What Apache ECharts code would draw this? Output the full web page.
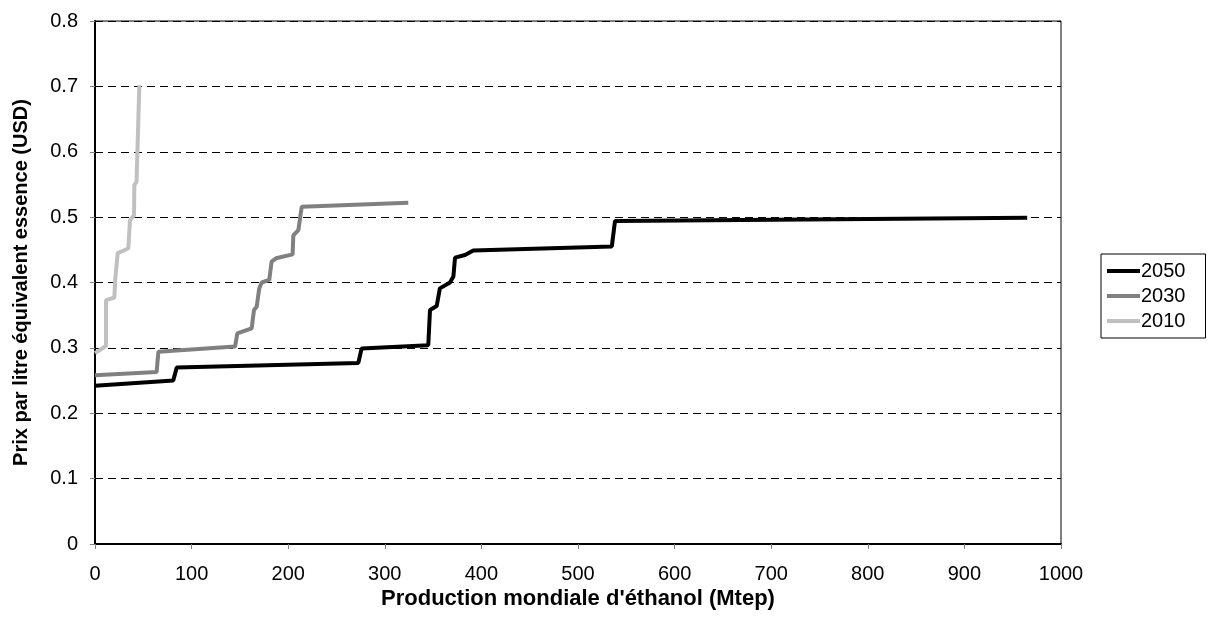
<!DOCTYPE html>
<html>
<head>
<meta charset="utf-8">
<script src="https://cdn.jsdelivr.net/npm/echarts@6/dist/echarts.min.js"></script>
<style>html,body{margin:0;padding:0;background:#fff}#c{width:1220px;height:630px}</style>
</head>
<body>
<div id="c"></div>
<script>
var seriesNames = ['2050', '2030', '2010'];
var x2050 = [0, 81, 84.6, 272.6, 276, 345, 346.8, 353.7, 357, 367.5, 371, 372.7, 383, 391.6, 535, 538.3, 965];
var y2050 = [0.242, 0.250, 0.270, 0.277, 0.299, 0.304, 0.358, 0.364, 0.391, 0.400, 0.409, 0.438, 0.442, 0.449, 0.455, 0.494, 0.499];
var x2030 = [0, 63.8, 65.6, 145, 147.3, 162.2, 164.6, 167.4, 170, 172.6, 180.4, 182.8, 187.4, 204.6, 205.3, 210.5, 214, 324.3];
var y2030 = [0.258, 0.263, 0.294, 0.302, 0.322, 0.330, 0.358, 0.363, 0.391, 0.400, 0.404, 0.432, 0.437, 0.443, 0.472, 0.480, 0.516, 0.522];
var x2010 = [0, 11.4, 11.4, 20, 21, 23.5, 34.5, 36.2, 40.4, 40.7, 43, 45.9];
var y2010 = [0.292, 0.303, 0.373, 0.377, 0.406, 0.445, 0.452, 0.495, 0.503, 0.549, 0.554, 0.702];
var xTicks = [0, 100, 200, 300, 400, 500, 600, 700, 800, 900, 1000];
var yTicks = [0, 0.1, 0.2, 0.3, 0.4, 0.5, 0.6, 0.7, 0.8];
var colors = ['#000000', '#808080', '#c0c0c0'];

function zip(xs, ys) { return xs.map(function (x, i) { return [x, ys[i]]; }); }
var datasets = [zip(x2050, y2050), zip(x2030, y2030), zip(x2010, y2010)];

var chart = echarts.init(document.getElementById('c'), null, {renderer: 'canvas'});
var font = 'Liberation Sans, Arial, sans-serif';
chart.setOption({
  animation: false,
  backgroundColor: '#fff',
  grid: {left: 95, right: 159, top: 21, bottom: 86, show: true, borderColor: '#000', borderWidth: 1},
  legend: {
    orient: 'vertical', left: 1101, top: 254,
    data: seriesNames,
    icon: 'rect', itemWidth: 33, itemHeight: 4, itemGap: 5,
    padding: [7, 20, 7, 6],
    borderColor: '#000', borderWidth: 1, borderRadius: 0,
    textStyle: {fontFamily: font, fontSize: 20, color: '#000', padding: [0, 0, 0, -4]}
  },
  xAxis: {
    type: 'value', min: xTicks[0], max: xTicks[xTicks.length - 1], interval: 100,
    name: "Production mondiale d'éthanol (Mtep)", nameLocation: 'middle', nameGap: 44,
    nameMoveOverlap: false,
    nameTextStyle: {fontFamily: font, fontSize: 22, fontWeight: 'bold', color: '#000'},
    axisLine: {show: true, onZero: false, lineStyle: {color: '#000', width: 2}},
    axisTick: {show: true, length: 5, lineStyle: {color: '#808080'}},
    axisLabel: {fontFamily: font, fontSize: 20, color: '#000', margin: 20,
      formatter: function (v) { return String(v); }},
    splitLine: {show: false}
  },
  yAxis: {
    type: 'value', min: yTicks[0], max: yTicks[yTicks.length - 1], interval: 0.1,
    name: 'Prix par litre équivalent essence (USD)', nameLocation: 'middle', nameGap: 64,
    nameMoveOverlap: false,
    nameTextStyle: {fontFamily: font, fontSize: 20, fontWeight: 'bold', color: '#000'},
    axisLine: {show: true, lineStyle: {color: '#000', width: 2}},
    axisTick: {show: true, length: 5, lineStyle: {color: '#808080'}},
    axisLabel: {fontFamily: font, fontSize: 20, color: '#000', margin: 17,
      formatter: function (v) { return v === 0 ? '0' : v.toFixed(1); }},
    splitLine: {show: true, lineStyle: {color: '#000', type: [8, 5], width: 1}}
  },
  series: seriesNames.map(function (n, i) {
    return {
      name: n, type: 'line', data: datasets[i], showSymbol: false, symbol: 'none',
      lineStyle: {color: colors[i], width: 4}, itemStyle: {color: colors[i]}, z: 10 - i
    };
  })
});
</script>
</body>
</html>
